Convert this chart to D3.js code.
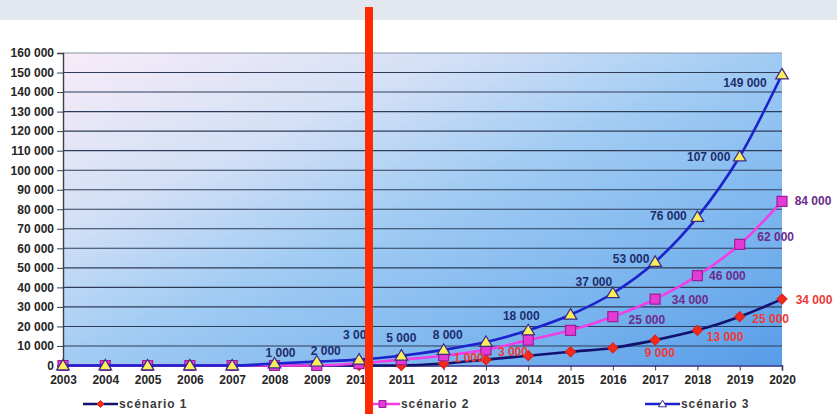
<!DOCTYPE html>
<html>
<head>
<meta charset="utf-8">
<script src="https://cdn.jsdelivr.net/npm/d3@7"></script>
<style>
  html, body { margin: 0; padding: 0; background: #ffffff; }
  svg { display: block; }
  text { font-family: "Liberation Sans", Arial, sans-serif; }
</style>
</head>
<body>
<svg id="chart" width="837" height="414"></svg>
<script>
// Years on the horizontal axis
const years = [2003, 2004, 2005, 2006, 2007, 2008, 2009, 2010, 2011, 2012, 2013, 2014, 2015, 2016, 2017, 2018, 2019, 2020];

// Series values (number of units per year)
const scenario1 = [0, 0, 0, 0, 0, 0, 0, 0, 0, 1000, 3000, 5000, 7000, 9000, 13000, 18000, 25000, 34000];
const scenario2 = [0, 0, 0, 0, 0, 0, 0, 1000, 3000, 5000, 8000, 13000, 18000, 25000, 34000, 46000, 62000, 84000];
const scenario3 = [0, 0, 0, 0, 0, 1000, 2000, 3000, 5000, 8000, 12000, 18000, 26000, 37000, 53000, 76000, 107000, 149000];

// Which years carry a value label, per series
const labelYears1 = [2012, 2013, 2016, 2017, 2019, 2020];
const labelYears2 = [2016, 2017, 2018, 2019, 2020];
const labelYears3 = [2008, 2009, 2010, 2011, 2012, 2014, 2016, 2017, 2018, 2019, 2020];

// Value-axis ticks
const yTicks = [0, 10000, 20000, 30000, 40000, 50000, 60000, 70000, 80000, 90000, 100000, 110000, 120000, 130000, 140000, 150000, 160000];

const seriesNames = ["scénario 1", "scénario 2", "scénario 3"];

// Label placement (offset of label centre from its point, px)
const labelOffsets1 = { 2012: [25, -6], 2013: [27, -8], 2016: [47, 5], 2017: [70, -3], 2019: [31, 2], 2020: [32, 1] };
const labelOffsets2 = { 2016: [34, 3], 2017: [35, 1], 2018: [30, 0], 2019: [36, -7], 2020: [31, 0] };
const labelOffsets3 = { 2008: [6, -11], 2009: [9, -11], 2010: [-1, -25], 2011: [0, -18], 2012: [4, -15], 2014: [-7, -14], 2016: [-19, -11], 2017: [-24, -3], 2018: [-29, -1], 2019: [-31, 0], 2020: [-37, 9] };

const svg = d3.select("#chart");
const W = 837, H = 414;
const plot = { left: 63, right: 782, top: 53, bottom: 365.5 };

const fr = d3.formatLocale({ decimal: ",", thousands: " ", grouping: [3], currency: ["", ""] });
const fmt = fr.format(",");

const x = d3.scalePoint().domain(years).range([plot.left, plot.right]);
const y = d3.scaleLinear().domain([0, 160000]).range([plot.bottom, plot.top]);

// Band across the top of the page
svg.append("rect").attr("x", 0).attr("y", 0).attr("width", W).attr("height", 20).attr("fill", "#e3e7f0");

// Plot-area gradient
const defs = svg.append("defs");
const grad = defs.append("linearGradient").attr("id", "plotBg")
  .attr("x1", 0).attr("y1", 0).attr("x2", 1).attr("y2", 1);
[[0, "#f8ecf8"], [0.28, "#d3e0f6"], [0.5, "#a0cbf3"], [0.78, "#78b3ee"], [1, "#579ce8"]]
  .forEach(([o, c]) => grad.append("stop").attr("offset", o).attr("stop-color", c));

svg.append("rect")
  .attr("x", plot.left).attr("y", plot.top)
  .attr("width", plot.right - plot.left).attr("height", plot.bottom - plot.top)
  .attr("fill", "url(#plotBg)");

// Horizontal gridlines
svg.append("g").selectAll("line").data(yTicks.filter(d => d > 0)).join("line")
  .attr("x1", plot.left).attr("x2", plot.right)
  .attr("y1", d => y(d)).attr("y2", d => y(d))
  .attr("stroke", d => d === 160000 ? "#8a93a6" : "#2e3c58")
  .attr("stroke-width", 1.1);

// Axes
const yAxis = svg.append("g").attr("transform", `translate(${plot.left},0)`)
  .call(d3.axisLeft(y).tickValues(yTicks).tickFormat(fmt).tickSize(6).tickPadding(3));
const xAxis = svg.append("g").attr("transform", `translate(0,${plot.bottom})`)
  .call(d3.axisBottom(x).tickSize(5).tickPadding(5).tickFormat(d3.format("d")));

[yAxis, xAxis].forEach(g => {
  g.select(".domain").attr("stroke", "#3a3f4a").attr("stroke-width", 1.4);
  g.selectAll(".tick line").attr("stroke", "#3a3f4a");
  g.selectAll(".tick text")
    .attr("fill", "#262626")
    .attr("font-size", 12)
    .attr("font-weight", "bold")
    .attr("font-family", '"Liberation Sans", Arial, sans-serif');
});
xAxis.select(".domain").attr("stroke", "#2a2a8a").attr("stroke-width", 1.6);

const line = d3.line()
  .x((d, i) => x(years[i]))
  .y(d => y(d))
  .curve(d3.curveMonotoneX);

const styles = [
  { vals: scenario1, stroke: "#12126e", marker: "diamond", fill: "#f22a1e", edge: "#e0241a", labelColor: "#ee3a36", labels: labelYears1, offs: labelOffsets1 },
  { vals: scenario2, stroke: "#f23ee6", marker: "square", fill: "#e33cd6", edge: "#9a2098", labelColor: "#6c2c8c", labels: labelYears2, offs: labelOffsets2 },
  { vals: scenario3, stroke: "#1c22cc", marker: "triangle", fill: "#fbee5a", edge: "#3a2a8a", labelColor: "#1d2d6e", labels: labelYears3, offs: labelOffsets3 }
];

function markerPath(type, s) {
  if (type === "diamond") return `M0,${-s} L${s},0 L0,${s} L${-s},0 Z`;
  if (type === "square") return `M${-s},${-s} H${s} V${s} H${-s} Z`;
  return `M0,${-s * 1.1} L${s * 1.15},${s * 0.8} L${-s * 1.15},${s * 0.8} Z`;
}
const markerSize = { diamond: 5, square: 5, triangle: 5.5 };

styles.forEach(st => {
  const g = svg.append("g");
  g.append("path").datum(st.vals)
    .attr("d", line).attr("fill", "none")
    .attr("stroke", st.stroke).attr("stroke-width", 2.6);
  g.selectAll("path.mk").data(st.vals).join("path").attr("class", "mk")
    .attr("transform", (d, i) => `translate(${x(years[i])},${y(d)})`)
    .attr("d", markerPath(st.marker, markerSize[st.marker]))
    .attr("fill", st.fill).attr("stroke", st.edge).attr("stroke-width", 1.2);
});

// Value labels
styles.forEach(st => {
  svg.append("g").selectAll("text").data(st.labels).join("text")
    .attr("x", yr => x(yr) + st.offs[yr][0])
    .attr("y", yr => y(st.vals[years.indexOf(yr)]) + st.offs[yr][1])
    .attr("text-anchor", "middle")
    .attr("dominant-baseline", "central")
    .attr("font-size", 12)
    .attr("font-weight", "bold")
    .attr("fill", st.labelColor)
    .text(yr => fmt(st.vals[years.indexOf(yr)]));
});

// Legend
const legendX = [83, 365, 645];
styles.forEach((st, i) => {
  const g = svg.append("g").attr("transform", `translate(${legendX[i]},404)`);
  g.append("line").attr("x1", 0).attr("x2", 35).attr("y1", 0).attr("y2", 0)
    .attr("stroke", st.stroke).attr("stroke-width", 2.6);
  g.append("path").attr("transform", "translate(17.5,0)")
    .attr("d", markerPath(st.marker, 3.5))
    .attr("fill", st.marker === "triangle" ? "#ffffff" : st.fill)
    .attr("stroke", st.edge).attr("stroke-width", 1);
  g.append("text").attr("x", 36).attr("y", 0)
    .attr("dominant-baseline", "central")
    .attr("font-size", 12).attr("font-weight", "bold")
    .attr("letter-spacing", 0.9)
    .attr("fill", "#3a3a3a")
    .text(seriesNames[i]);
});

// Vertical marker bar
svg.append("rect").attr("x", 365).attr("y", 7).attr("width", 8).attr("height", H - 7).attr("fill", "#ff2a00");
</script>
</body>
</html>
